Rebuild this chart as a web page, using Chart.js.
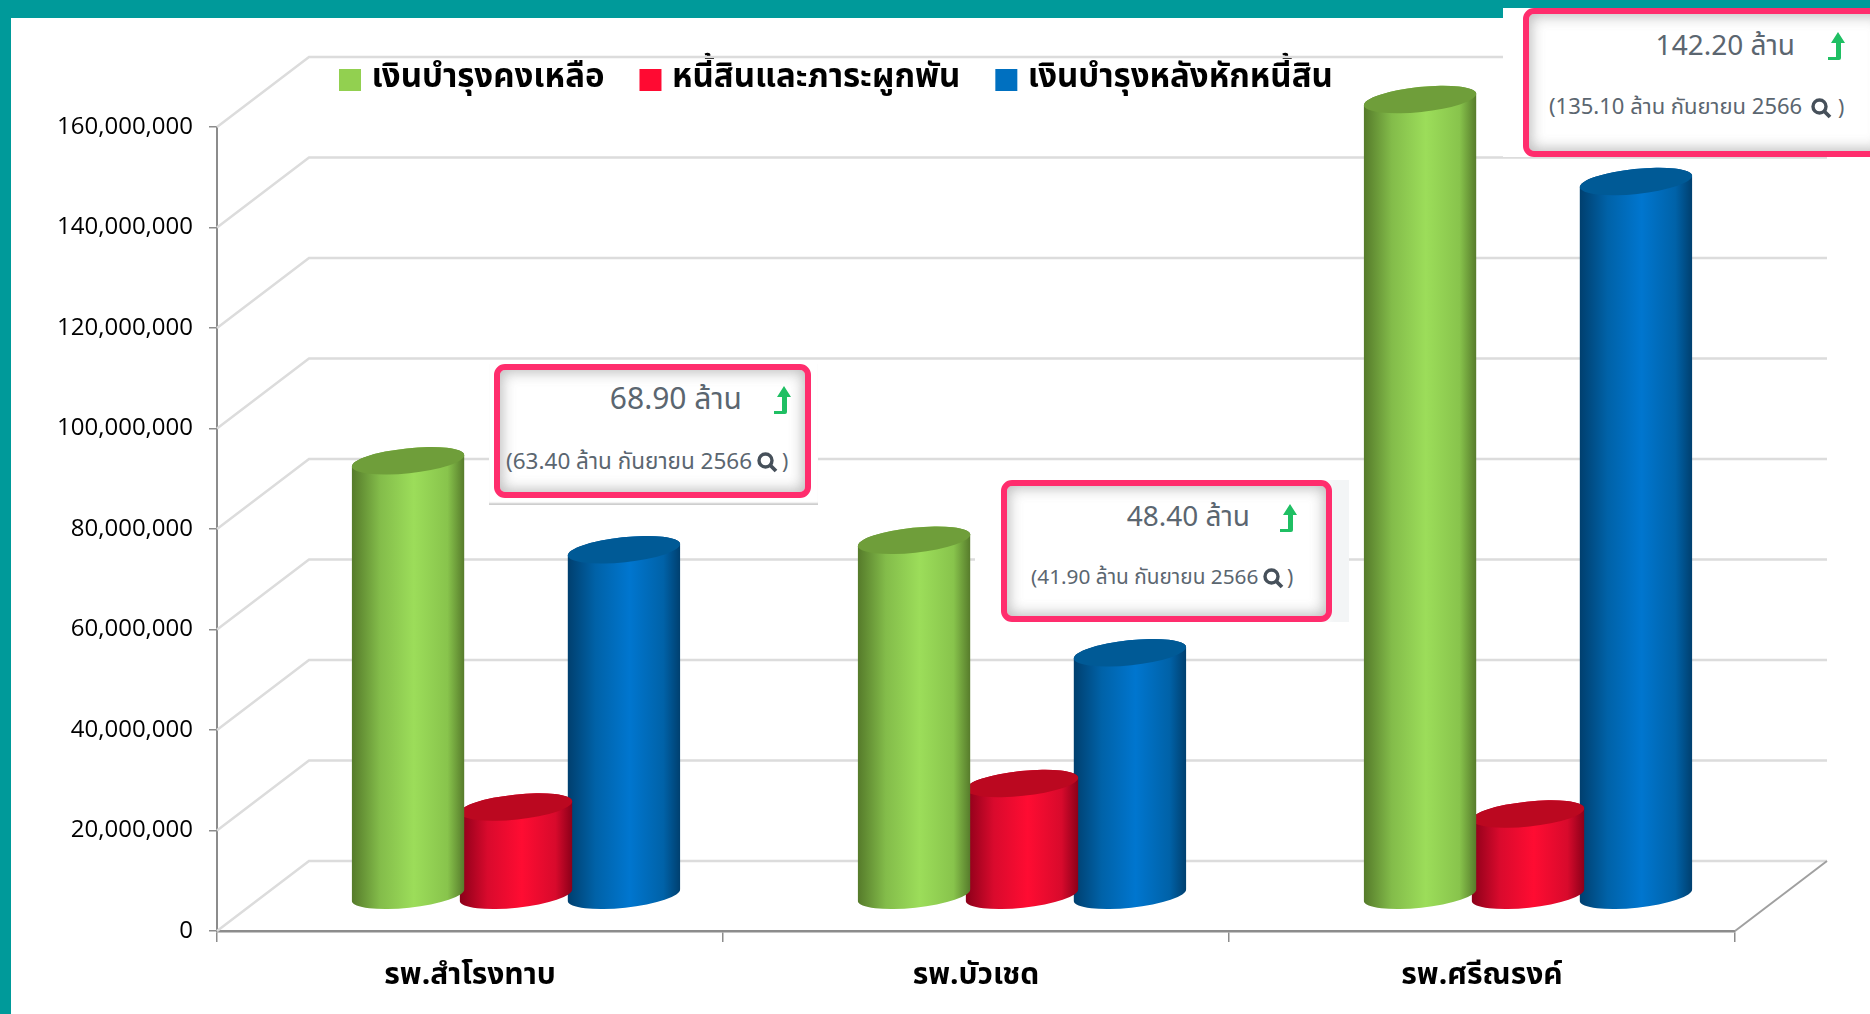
<!DOCTYPE html>
<html><head><meta charset="utf-8">
<style>
html,body{margin:0;padding:0;width:1870px;height:1014px;overflow:hidden;background:#009a9a;}
#sheet{position:absolute;left:11px;top:18px;right:0;bottom:0;background:#fff;}
canvas{position:absolute;left:0;top:0;}
.patch{position:absolute;background:#fff;}
.card{position:absolute;box-sizing:border-box;border:6px solid #ff2d6d;border-radius:11px;background:#fff;box-shadow:inset 0 0 14px 2px rgba(90,90,90,.42);}
.t{position:absolute;white-space:nowrap;color:#5b6670;font-family:"Noto Sans Thai","Noto Sans","Open Sans",sans-serif;line-height:1;transform:translateY(-50%);}
.big{font-size:28px;}
.small{font-size:21px;}
svg.ic{position:absolute;}
</style></head><body>
<div id="sheet"></div>
<canvas id="c" width="1870" height="1014"></canvas>

<div class="patch" style="left:489px;top:364px;width:329px;height:141px;box-shadow:inset 0 -3px 2px -1px #ccc"></div>
<div class="card" style="left:494px;top:364px;width:317px;height:134px"></div>
<div class="t big" style="right:1128px;top:400px;font-size:30px">68.90 ล้าน</div>
<svg class="ic" style="left:772px;top:385px" width="20" height="30" viewBox="0 0 20 30"><path d="M12 1l7 11h-4v15a2 2 0 0 1-2 2H2v-3h8V12H5z" fill="#1fbf63"/></svg>
<div class="t small" style="left:506px;top:462px;font-size:22.5px">(63.40 ล้าน กันยายน 2566</div>
<svg class="ic" style="left:756px;top:451px" width="22" height="22" viewBox="0 0 22 22"><circle cx="9.5" cy="9.5" r="6.5" fill="none" stroke="#46505a" stroke-width="3.4"/><path d="M14 14l6 6" stroke="#46505a" stroke-width="3.8"/></svg>
<div class="t small" style="left:782px;top:462px">)</div>

<div class="patch" style="left:975px;top:480px;width:374px;height:142px;background:linear-gradient(90deg,#fff 92%,#f3f5f6 96%)"></div>
<div class="card" style="left:1001px;top:480px;width:331px;height:142px"></div>
<div class="t big" style="right:620px;top:518px">48.40 ล้าน</div>
<svg class="ic" style="left:1278px;top:503px" width="20" height="30" viewBox="0 0 20 30"><path d="M12 1l7 11h-4v15a2 2 0 0 1-2 2H2v-3h8V12H5z" fill="#1fbf63"/></svg>
<div class="t small" style="left:1031px;top:578px;font-size:20.8px">(41.90 ล้าน กันยายน 2566</div>
<svg class="ic" style="left:1262px;top:567px" width="22" height="22" viewBox="0 0 22 22"><circle cx="9.5" cy="9.5" r="6.5" fill="none" stroke="#46505a" stroke-width="3.4"/><path d="M14 14l6 6" stroke="#46505a" stroke-width="3.8"/></svg>
<div class="t small" style="left:1287px;top:578px">)</div>

<div class="patch" style="left:1503px;top:8px;width:367px;height:149px"></div>
<div class="card" style="left:1523px;top:8px;width:367px;height:149px"></div>
<div class="t big" style="right:75px;top:47px">142.20 ล้าน</div>
<svg class="ic" style="left:1826px;top:31px" width="20" height="30" viewBox="0 0 20 30"><path d="M12 1l7 11h-4v15a2 2 0 0 1-2 2H2v-3h8V12H5z" fill="#1fbf63"/></svg>
<div class="t small" style="left:1549px;top:108px;font-size:22px">(135.10 ล้าน กันยายน 2566</div>
<svg class="ic" style="left:1810px;top:97px" width="22" height="22" viewBox="0 0 22 22"><circle cx="9.5" cy="9.5" r="6.5" fill="none" stroke="#46505a" stroke-width="3.4"/><path d="M14 14l6 6" stroke="#46505a" stroke-width="3.8"/></svg>
<div class="t small" style="left:1838px;top:108px">)</div>

<script src="https://cdn.jsdelivr.net/npm/chart.js@4/dist/chart.umd.js"></script>
<script>
const categories = ["รพ.สำโรงทาบ", "รพ.บัวเชด", "รพ.ศรีณรงค์"];
const seriesNames = ["เงินบำรุงคงเหลือ", "หนี้สินและภาระผูกพัน", "เงินบำรุงหลังหักหนี้สิน"];
const remaining = [86600000, 70800000, 158500000];
const liabilities = [17700000, 22400000, 16300000];
const afterDebt = [68900000, 48400000, 142200000];

const legendColors = ["#92d050", "#ff0a32", "#0070c0"];
const shades = [
  {stops:["#557a2a","#83bc4a","#9cdd5a","#88c44c","#567a2b"], top:"#6f9e3a"},
  {stops:["#8a0019","#d90a2d","#ff0c32","#d80a2c","#8a0019"], top:"#bb0820"},
  {stops:["#003f6e","#0062a8","#0076cf","#0062a8","#003f6e"], top:"#005a96"}
];
const DEPTH_X = 92, DEPTH_Y = 70;
const FONT = '"Noto Sans Thai","Noto Sans","Open Sans",sans-serif';

// Bars are the library's own elements, painted as cylinders standing mid-way into the 3D floor.
Chart.elements.BarElement.prototype.draw = function (ctx) {
  const {x, y, base, width} = this.getProps(['x', 'y', 'base', 'width']);
  const s = this.$shade, rx = width / 2, ry = 12.5, rot = -0.105;
  const cx = x + DEPTH_X / 2, top = y - DEPTH_Y / 2, bot = base - DEPTH_Y / 2;
  const g = ctx.createLinearGradient(cx - rx, 0, cx + rx, 0);
  [0, .25, .55, .85, 1].forEach((p, i) => g.addColorStop(p, s.stops[i]));
  ctx.save();
  ctx.fillStyle = g;
  ctx.beginPath();
  ctx.ellipse(cx, bot, rx, ry, rot, Math.PI, 0, true);
  ctx.ellipse(cx, top, rx, ry, rot, 0, Math.PI, true);
  ctx.closePath();
  ctx.fill();
  ctx.fillStyle = s.top;
  ctx.beginPath();
  ctx.ellipse(cx, top, rx, ry, rot, 0, Math.PI * 2);
  ctx.fill();
  ctx.restore();
};

const stage = {
  id: 'stage',
  afterLayout(chart) {
    chart.legend.left = 304;
    chart.legend.top = 22.5;
  },
  beforeDatasetsDraw(chart) {
    const {ctx, scales: {x: xs, y: ys}} = chart;
    const L = xs.left, R = xs.right;
    ctx.save();
    ctx.lineWidth = 2.5;
    ctx.strokeStyle = '#dcdcdc';
    ys.ticks.forEach(t => {
      const py = ys.getPixelForValue(t.value);
      ctx.beginPath();
      ctx.moveTo(L, py);
      ctx.lineTo(L + DEPTH_X, py - DEPTH_Y);
      ctx.lineTo(R + DEPTH_X, py - DEPTH_Y);
      ctx.stroke();
    });
    const by = ys.getPixelForValue(0);
    ctx.strokeStyle = '#a0a0a0';
    ctx.lineWidth = 2;
    ctx.beginPath();
    ctx.moveTo(R, by);
    ctx.lineTo(R + DEPTH_X, by - DEPTH_Y);
    ctx.stroke();
    ctx.restore();
    chart.data.datasets.forEach((d, i) => {
      chart.getDatasetMeta(i).data.forEach(el => { el.$shade = shades[i]; });
    });
  }
};

new Chart(document.getElementById('c'), {
  type: 'bar',
  data: {
    labels: categories,
    datasets: [
      {label: seriesNames[0], data: remaining, backgroundColor: legendColors[0]},
      {label: seriesNames[1], data: liabilities, backgroundColor: legendColors[1]},
      {label: seriesNames[2], data: afterDebt, backgroundColor: legendColors[2]}
    ]
  },
  options: {
    responsive: false,
    animation: false,
    layout: {padding: {top: 43, right: 135, left: 0, bottom: 0}},
    datasets: {bar: {categoryPercentage: 0.64, barPercentage: 1.046, clip: false}},
    plugins: {
      tooltip: {enabled: false},
      legend: {
        position: 'top', align: 'start',
        labels: {
          boxWidth: 10, boxHeight: 10, padding: 41, color: '#000',
          font: {family: FONT, size: 33, weight: 'bold'},
          generateLabels: chart => chart.data.datasets.map((d, i) => ({
            text: d.label, fillStyle: legendColors[i], strokeStyle: legendColors[i],
            lineWidth: 12, fontColor: '#000', datasetIndex: i, hidden: false
          }))
        }
      }
    },
    scales: {
      x: {
        afterFit: s => { s.height = 83; },
        grid: {display: true, drawOnChartArea: false, drawTicks: true, tickLength: 11, color: '#8c8c8c', lineWidth: 1.5},
        border: {display: true, color: '#8c8c8c', width: 2.5},
        ticks: {color: '#000', padding: 18, font: {family: FONT, size: 30, weight: 'bold'}, maxRotation: 0}
      },
      y: {
        min: 0, max: 160000000,
        afterFit: s => { s.width = 217; },
        grid: {display: true, drawOnChartArea: false, drawTicks: true, tickLength: 8, color: '#8c8c8c', lineWidth: 1.5},
        border: {display: true, color: '#8c8c8c', width: 2},
        ticks: {
          stepSize: 20000000, color: '#000', padding: 16,
          font: {family: '"Open Sans","Noto Sans",sans-serif', size: 24},
          callback: v => Number(v).toLocaleString('en-US')
        }
      }
    }
  },
  plugins: [stage]
});
</script>
</body></html>
